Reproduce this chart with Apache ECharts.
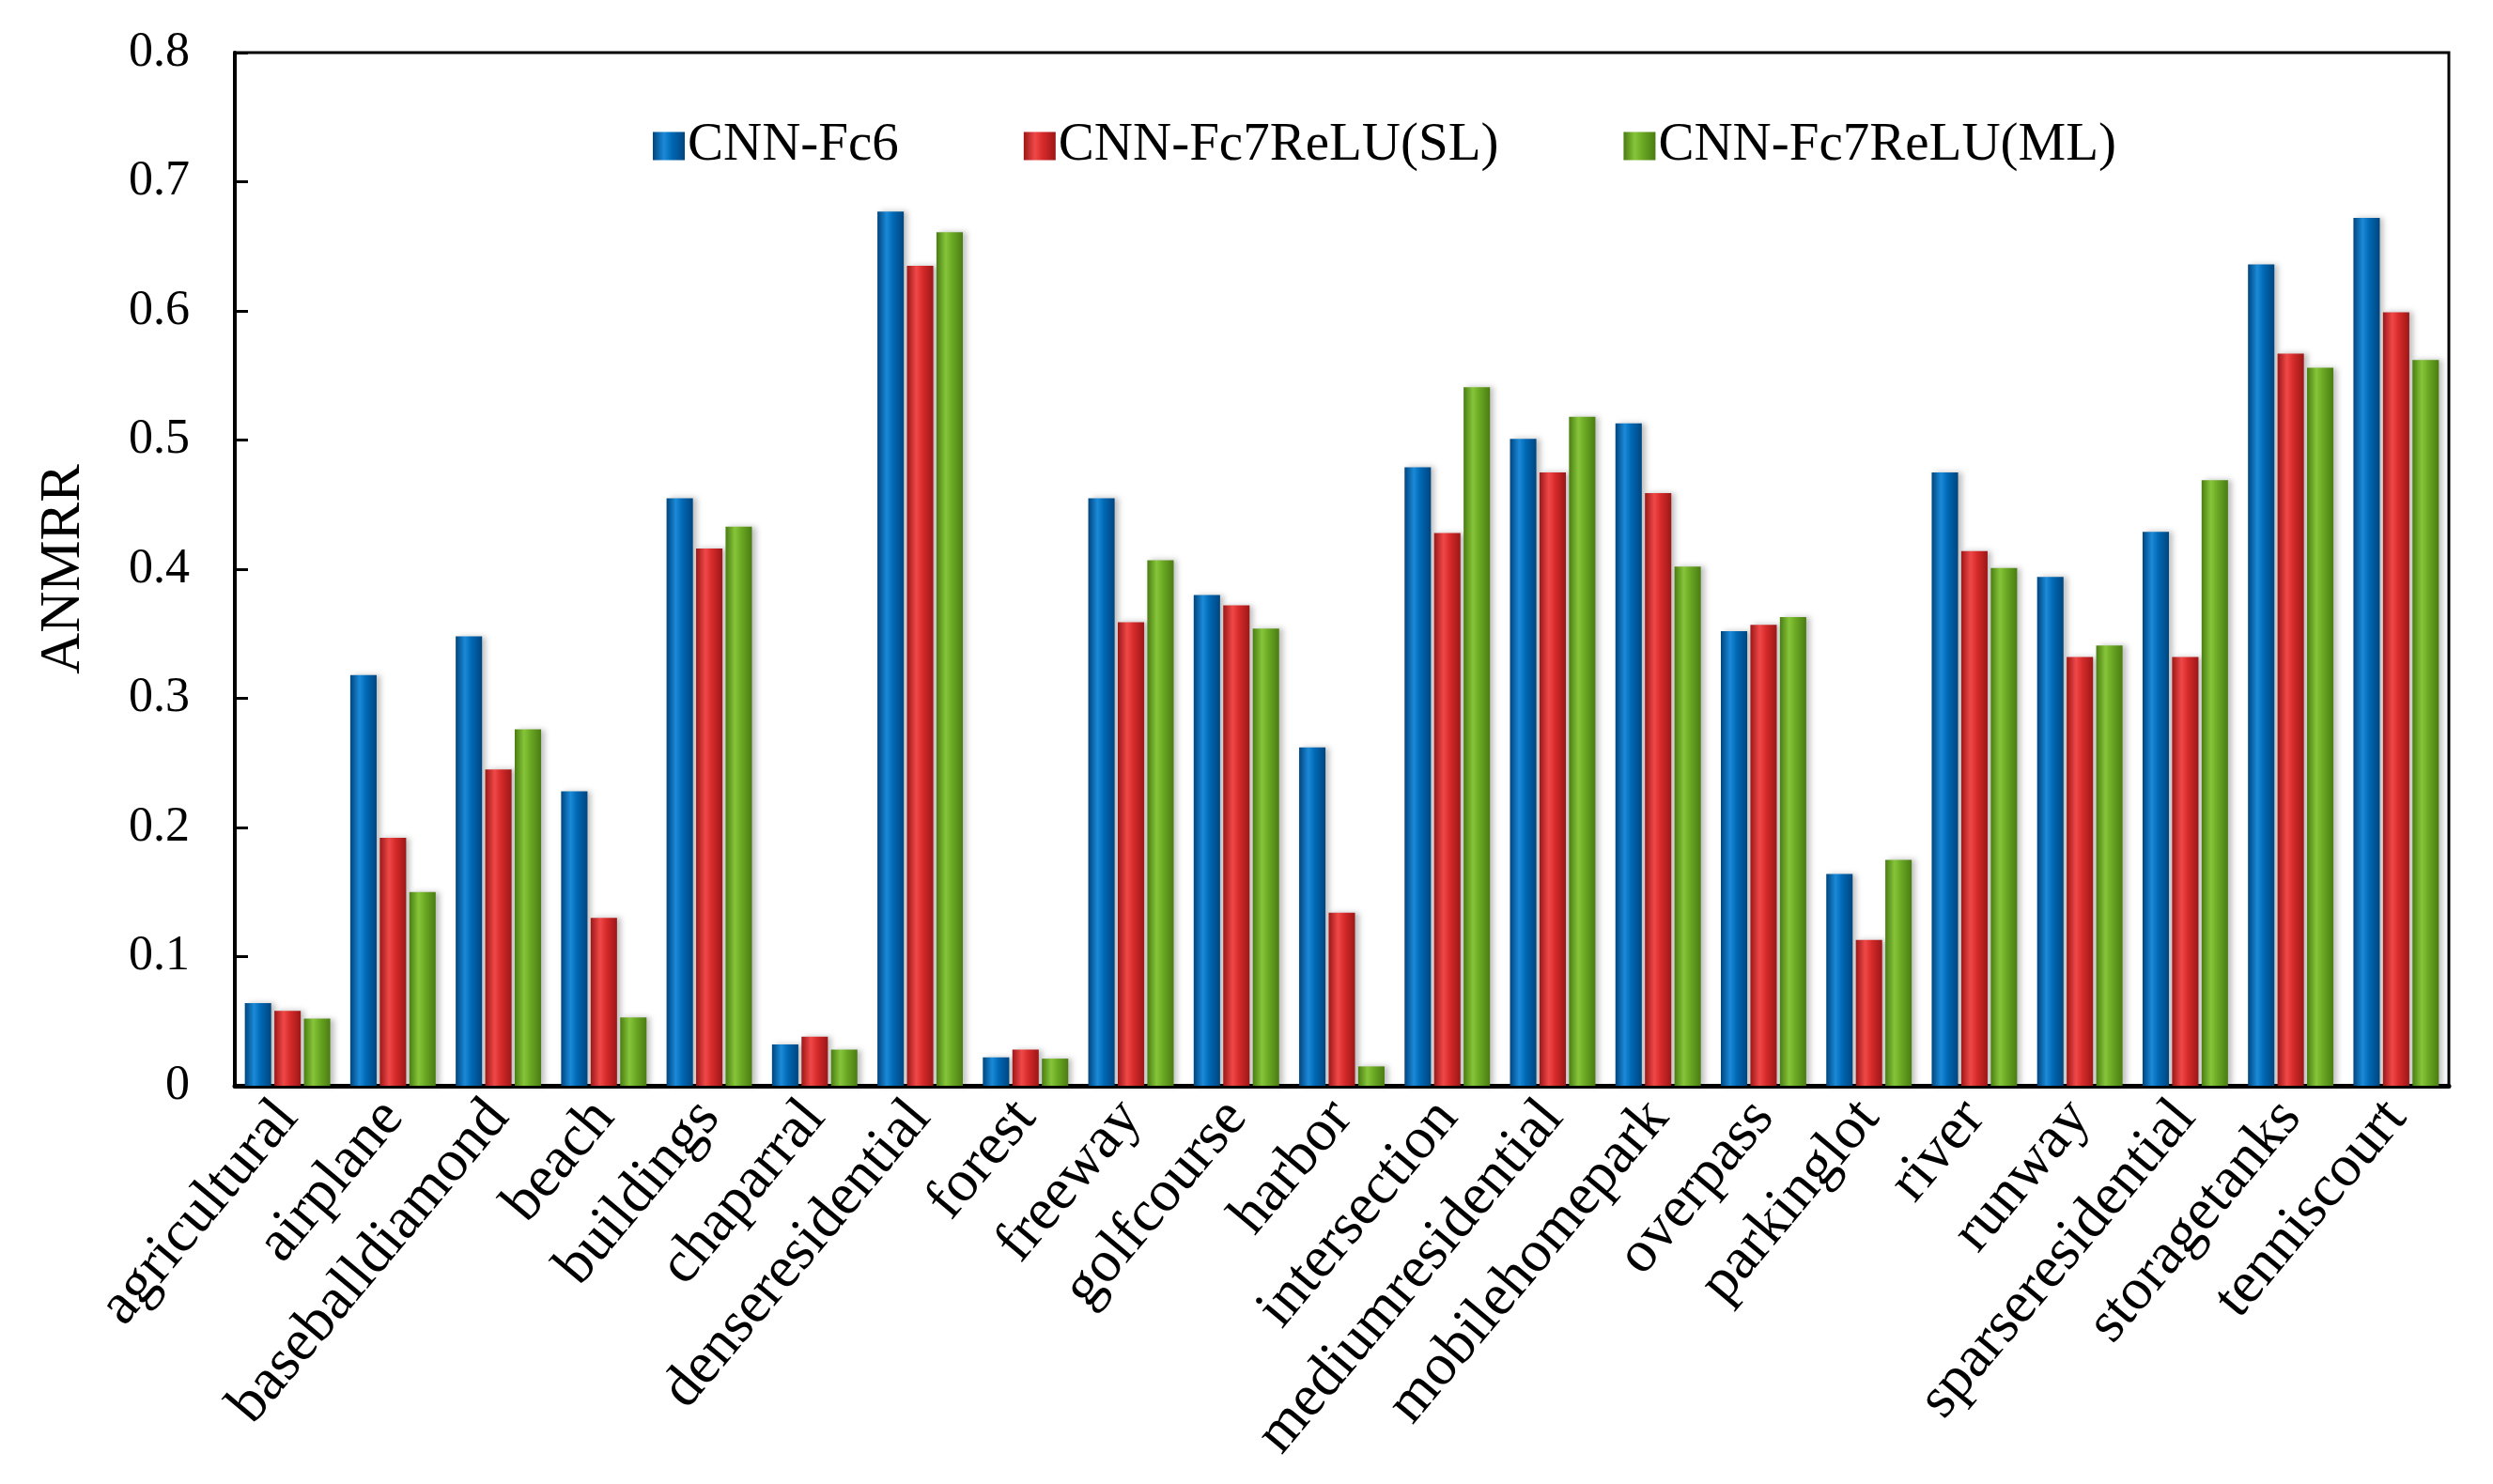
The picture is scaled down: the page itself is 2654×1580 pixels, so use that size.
<!DOCTYPE html>
<html>
<head>
<meta charset="utf-8">
<title>ANMRR</title>
<script src="https://cdn.jsdelivr.net/npm/echarts@6/dist/echarts.min.js"></script>
<style>
  html, body { margin: 0; padding: 0; background: #fff; }
  #chart { width: 2654px; height: 1580px; }
</style>
</head>
<body>
<div id="chart"></div>
<script>
  // categories (x axis)
  const categories = ["agricultural", "airplane", "baseballdiamond", "beach", "buildings", "chaparral",
    "denseresidential", "forest", "freeway", "golfcourse", "harbor", "intersection",
    "mediumresidential", "mobilehomepark", "overpass", "parkinglot", "river", "runway",
    "sparseresidential", "storagetanks", "tenniscourt"];

  const seriesNames = ["CNN-Fc6", "CNN-Fc7ReLU(SL)", "CNN-Fc7ReLU(ML)"];

  // values
  const fc6 = [0.064, 0.318, 0.348, 0.228, 0.455, 0.032, 0.677, 0.022, 0.455, 0.380, 0.262,
    0.479, 0.501, 0.513, 0.352, 0.164, 0.475, 0.394, 0.429, 0.636, 0.672];
  const fc7SL = [0.058, 0.192, 0.245, 0.130, 0.416, 0.038, 0.635, 0.028, 0.359, 0.372, 0.134,
    0.428, 0.475, 0.459, 0.357, 0.113, 0.414, 0.332, 0.332, 0.567, 0.599];
  const fc7ML = [0.052, 0.150, 0.276, 0.053, 0.433, 0.028, 0.661, 0.021, 0.407, 0.354, 0.015,
    0.541, 0.518, 0.402, 0.363, 0.175, 0.401, 0.341, 0.469, 0.556, 0.562];

  const yTicks = [0, 0.1, 0.2, 0.3, 0.4, 0.5, 0.6, 0.7, 0.8];

  const font = "Liberation Serif, Times New Roman, serif";

  //圆柱样渐变
  function barColor(edge, mid, light) {
    return new echarts.graphic.LinearGradient(0, 0, 1, 0, [
      { offset: 0, color: edge },
      { offset: 0.35, color: light },
      { offset: 0.6, color: mid },
      { offset: 1, color: edge }
    ]);
  }

  const colors = [
    barColor("#00457f", "#0068b4", "#1b8ad8"),
    barColor("#9c1717", "#d62a2a", "#f04848"),
    barColor("#4a7d12", "#6aa823", "#86c53a")
  ];

  function makeSeries(name, data, color) {
    return {
      name: name,
      type: "bar",
      data: data,
      barGap: "12%",
      barCategoryGap: "19%",
      itemStyle: {
        color: color,
        shadowColor: "rgba(0,0,0,0.25)",
        shadowBlur: 6,
        shadowOffsetX: 4
      }
    };
  }

  let myChart = echarts.init(document.getElementById("chart"));
  let option = {
    backgroundColor: "#fff",
    animation: false,
    textStyle: { fontFamily: font, color: "#000" },
    legend: {
      data: seriesNames,
      left: 690,
      top: 122,
      icon: "rect",
      itemWidth: 34,
      itemHeight: 30,
      itemGap: 133,
      textStyle: { fontFamily: font, fontSize: 57, color: "#000", padding: [0, 0, 0, -2] }
    },
    grid: {
      left: 250,
      right: 47,
      top: 56,
      bottom: 424,
      show: true,
      borderColor: "#000",
      borderWidth: 3,
      backgroundColor: "#fff"
    },
    xAxis: {
      type: "category",
      data: categories,
      axisLine: { lineStyle: { color: "#000", width: 5 } },
      axisTick: { show: false },
      axisLabel: {
        rotate: 50,
        margin: 24,
        interval: 0,
        color: "#000",
        fontFamily: font,
        fontSize: 63
      }
    },
    yAxis: {
      type: "value",
      min: yTicks[0],
      max: yTicks[yTicks.length - 1],
      interval: 0.1,
      name: "ANMRR",
      nameLocation: "middle",
      nameGap: 152,
      nameTextStyle: { fontFamily: font, fontSize: 61, color: "#000" },
      splitLine: { show: false },
      axisLine: { show: true, lineStyle: { color: "#000", width: 4 } },
      axisTick: { show: true, inside: true, length: 14, lineStyle: { color: "#000", width: 3 } },
      axisLabel: {
        margin: 48,
        color: "#000",
        fontFamily: font,
        fontSize: 52,
        formatter: function (v) {
          return String(Math.round(v * 10) / 10);
        }
      }
    },
    series: [
      makeSeries(seriesNames[0], fc6, colors[0]),
      makeSeries(seriesNames[1], fc7SL, colors[1]),
      makeSeries(seriesNames[2], fc7ML, colors[2])
    ]
  };
  myChart.setOption(option);
</script>
</body>
</html>
